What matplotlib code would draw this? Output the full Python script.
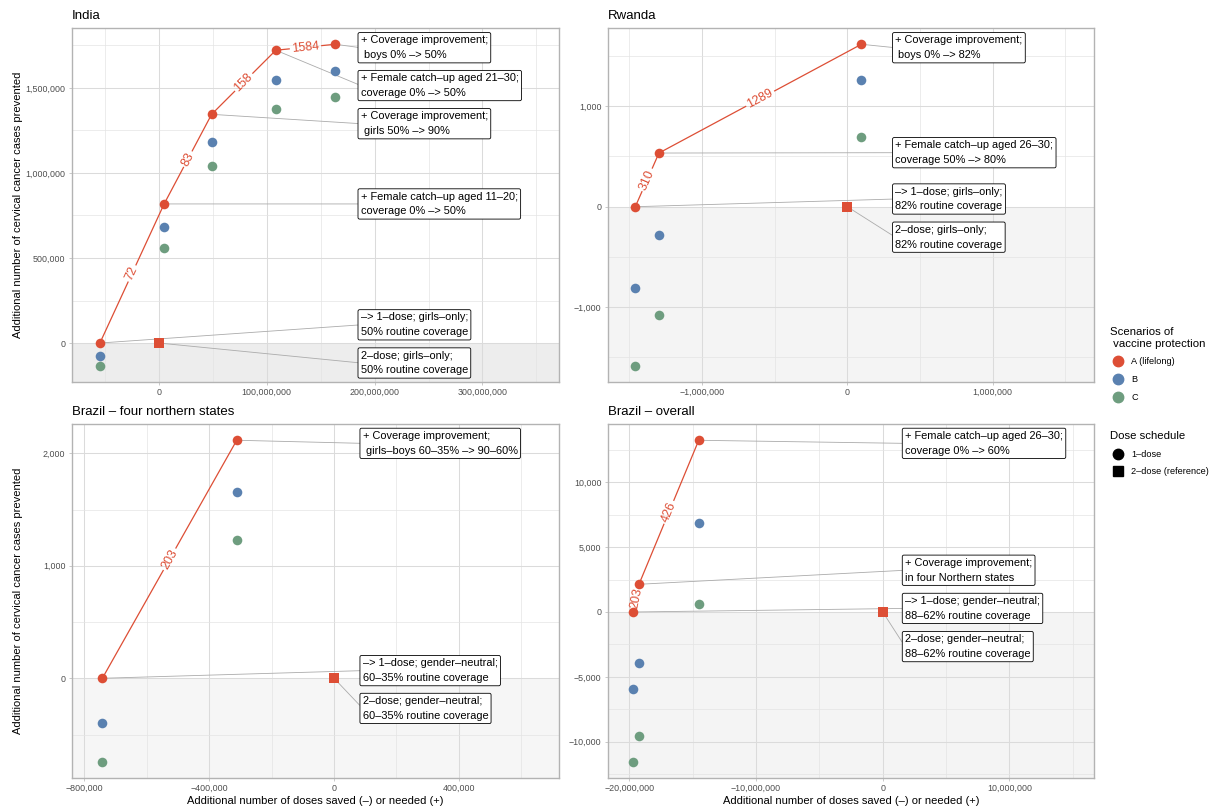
import matplotlib
matplotlib.use('Agg')
import matplotlib.pyplot as plt
import matplotlib.ticker as mticker
from matplotlib.lines import Line2D
import numpy as np

plt.rcParams['font.family'] = ['Liberation Sans', 'DejaVu Sans']

panelNames = ['India', 'Rwanda', 'Brazil – four northern states', 'Brazil – overall']

# India: doses saved(-)/needed(+) for each step; cases prevented per scenario
indiaDoses = [-54.5e6, 5.0e6, 49.0e6, 108.5e6, 163.5e6]
indiaCasesA = [0, 818000, 1345000, 1722000, 1757000]
indiaCasesB = [-75000, 680000, 1182000, 1545000, 1600000]
indiaCasesC = [-135000, 561000, 1041000, 1378000, 1445000]
indiaRatios = ['72', '83', '158', '1584']
indiaSteps = ['–> 1–dose; girls–only;\n50% routine coverage',
              '+ Female catch–up aged 11–20;\ncoverage 0% –> 50%',
              '+ Coverage improvement;\n girls 50% –> 90%',
              '+ Female catch–up aged 21–30;\ncoverage 0% –> 50%',
              '+ Coverage improvement;\n boys 0% –> 50%']
indiaRef = '2–dose; girls–only;\n50% routine coverage'

# Rwanda
rwandaDoses = [-1.460e6, -1.297e6, 0.097e6]
rwandaCasesA = [0, 534, 1616]
rwandaCasesB = [-809, -279, 1261]
rwandaCasesC = [-1585, -1078, 694]
rwandaRatios = ['310', '1289']
rwandaSteps = ['–> 1–dose; girls–only;\n82% routine coverage',
               '+ Female catch–up aged 26–30;\ncoverage 50% –> 80%',
               '+ Coverage improvement;\n boys 0% –> 82%']
rwandaRef = '2–dose; girls–only;\n82% routine coverage'

# Brazil - four northern states
brNorthDoses = [-742600, -311900]
brNorthCasesA = [0, 2116]
brNorthCasesB = [-395, 1659]
brNorthCasesC = [-741, 1232]
brNorthRatios = ['203']
brNorthSteps = ['–> 1–dose; gender–neutral;\n60–35% routine coverage',
                '+ Coverage improvement;\n girls–boys 60–35% –> 90–60%']
brNorthRef = '2–dose; gender–neutral;\n60–35% routine coverage'

# Brazil - overall
brazilDoses = [-19.70e6, -19.25e6, -14.53e6]
brazilCasesA = [0, 2136, 13238]
brazilCasesB = [-5960, -3909, 6839]
brazilCasesC = [-11542, -9584, 617]
brazilRatios = ['203', '426']
brazilSteps = ['–> 1–dose; gender–neutral;\n88–62% routine coverage',
               '+ Coverage improvement;\nin four Northern states',
               '+ Female catch–up aged 26–30;\ncoverage 0% –> 60%']
brazilRef = '2–dose; gender–neutral;\n88–62% routine coverage'

# 2-dose reference schedule (origin of every panel)
refDoses = [0, 0, 0, 0]
refCases = [0, 0, 0, 0]

scenarioNames = ['A (lifelong)', 'B', 'C']
doseNames = ['1–dose', '2–dose (reference)']

allDoses = [indiaDoses, rwandaDoses, brNorthDoses, brazilDoses]
allCases = [[indiaCasesA, indiaCasesB, indiaCasesC],
            [rwandaCasesA, rwandaCasesB, rwandaCasesC],
            [brNorthCasesA, brNorthCasesB, brNorthCasesC],
            [brazilCasesA, brazilCasesB, brazilCasesC]]
allRatios = [indiaRatios, rwandaRatios, brNorthRatios, brazilRatios]
allSteps = [indiaSteps, rwandaSteps, brNorthSteps, brazilSteps]
allRefs = [indiaRef, rwandaRef, brNorthRef, brazilRef]

# layout
colors = ['#DD4E35', '#5A81B0', '#6E9D7F']
xLims = [(-80.6e6, 371e6), (-1.650e6, 1.701e6), (-840700, 721150), (-21.72e6, 16.71e6)]
yLims = [(-227600, 1851000), (-1741, 1775), (-884, 2258), (-12776, 14472)]
xSteps = [(1e8, 5e7), (1e6, 5e5), (4e5, 2e5), (1e7, 5e6)]
ySteps = [(5e5, 2.5e5), (1000, 500), (1000, 500), (5000, 2500)]
shadeColors = ['#EDEDED', '#F4F4F4', '#F6F6F6', '#F4F4F4']
boxX = [0.593, 0.591, 0.597, 0.611]
# label box centres (axes fraction): steps first, reference last
boxY = [[0.161, 0.503, 0.730, 0.838, 0.945, 0.053],
        [0.517, 0.648, 0.945, 0.409],
        [0.303, 0.946, 0.196],
        [0.479, 0.587, 0.946, 0.371]]
axPos = [[0.0592, 0.5264, 0.4021, 0.4385],
         [0.5014, 0.5264, 0.4015, 0.4385],
         [0.0592, 0.0351, 0.4021, 0.4385],
         [0.5014, 0.0351, 0.4015, 0.4385]]

fig = plt.figure(figsize=(12.12, 8.06), dpi=100)
renderer = fig.canvas.get_renderer()

def fmt(v, pos):
  return f'{v:,.0f}'.replace('-', '\u2212')

for nPanel in range(0, len(panelNames)):
  ax = fig.add_axes(axPos[nPanel])
  ax.set_xlim(xLims[nPanel])
  ax.set_ylim(yLims[nPanel])
  ax.xaxis.set_major_locator(mticker.MultipleLocator(xSteps[nPanel][0]))
  ax.xaxis.set_minor_locator(mticker.MultipleLocator(xSteps[nPanel][1]))
  ax.yaxis.set_major_locator(mticker.MultipleLocator(ySteps[nPanel][0]))
  ax.yaxis.set_minor_locator(mticker.MultipleLocator(ySteps[nPanel][1]))
  ax.xaxis.set_major_formatter(mticker.FuncFormatter(fmt))
  ax.yaxis.set_major_formatter(mticker.FuncFormatter(fmt))
  ax.set_axisbelow(True)
  ax.grid(which='major', color='#DBDBDB', lw=0.75)
  ax.grid(which='minor', color='#E4E4E4', lw=0.5)
  ax.tick_params(which='major', length=2.5, width=0.5, color='#B3B3B3',
                 labelsize=6.4, labelcolor='#4D4D4D', pad=2)
  ax.tick_params(which='minor', length=0)
  for s in ax.spines.values():
    s.set_color('#B3B3B3')
    s.set_linewidth(1.0)
  ax.axhspan(yLims[nPanel][0], 0, color=shadeColors[nPanel], lw=0, zorder=0.2)
  ax.set_title(panelNames[nPanel], loc='left', fontsize=9.5, pad=7)

  xs = allDoses[nPanel]
  ysA = allCases[nPanel][0]

  # path of scenario A with ratio labels cut into the line
  pts = ax.transData.transform(np.column_stack([xs, ysA]))
  inv = ax.transData.inverted()
  for i in range(0, len(allRatios[nPanel])):
    p0 = pts[i]
    p1 = pts[i + 1]
    d = p1 - p0
    length = np.hypot(d[0], d[1])
    u = d / length
    mid = (p0 + p1) / 2
    angle = np.degrees(np.arctan2(d[1], d[0]))
    mx, my = inv.transform(mid)
    t = ax.text(mx, my, allRatios[nPanel][i], color=colors[0], fontsize=9,
                ha='center', va='center', rotation_mode='anchor', zorder=3)
    w = t.get_window_extent(renderer).width
    t.set_rotation(angle)
    gap = w / 2 + 2.5
    if gap < length / 2:
      a = inv.transform(mid - u * gap)
      b = inv.transform(mid + u * gap)
      ax.plot([xs[i], a[0]], [ysA[i], a[1]], color=colors[0], lw=0.9, zorder=2.5)
      ax.plot([b[0], xs[i + 1]], [b[1], ysA[i + 1]], color=colors[0], lw=0.9, zorder=2.5)

  for nScen in range(2, -1, -1):
    ax.scatter(xs, allCases[nPanel][nScen], s=48, c=colors[nScen], lw=0, zorder=3)
  ax.scatter(refDoses[nPanel], refCases[nPanel], s=62, marker='s', c=colors[0], lw=0, zorder=3)

  # label boxes
  targets = [(xs[i], ysA[i]) for i in range(len(xs))] + [(refDoses[nPanel], refCases[nPanel])]
  texts = allSteps[nPanel] + [allRefs[nPanel]]
  for i in range(0, len(texts)):
    ax.annotate(texts[i], xy=targets[i], xycoords='data',
                xytext=(boxX[nPanel], boxY[nPanel][i]), textcoords='axes fraction',
                ha='left', va='center', fontsize=7.9, linespacing=1.6, zorder=2.8,
                bbox=dict(boxstyle='round,pad=0.25,rounding_size=0.15', fc='white', ec='black', lw=0.6),
                arrowprops=dict(arrowstyle='-', color='#ABABAB', lw=0.6, shrinkA=0, shrinkB=0,
                                relpos=(0, 0.5)))

  if nPanel >= 2:
    ax.set_xlabel('Additional number of doses saved (–) or needed (+)', fontsize=8, labelpad=2)

fig.text(18 / 1212, 0.7457, 'Additional number of cervical cancer cases prevented',
         rotation=90, ha='center', va='center', fontsize=8)
fig.text(18 / 1212, 0.2543, 'Additional number of cervical cancer cases prevented',
         rotation=90, ha='center', va='center', fontsize=8)

scenHandles = [Line2D([], [], marker='o', ls='', color=c, markersize=7.5) for c in colors]
leg1 = fig.legend(scenHandles, scenarioNames, title='Scenarios of\n vaccine protection',
                  loc='upper left', bbox_to_anchor=(1110 / 1212, 1 - 327 / 806), frameon=False,
                  fontsize=6.6, title_fontsize=8.2, alignment='left', handletextpad=0.5,
                  labelspacing=0.95, handlelength=1.8, borderaxespad=0, borderpad=0)
doseHandles = [Line2D([], [], marker='o', ls='', color='black', markersize=7.5),
               Line2D([], [], marker='s', ls='', color='black', markersize=7.5)]
leg2 = fig.legend(doseHandles, doseNames, title='Dose schedule',
                  loc='upper left', bbox_to_anchor=(1110 / 1212, 1 - 431 / 806), frameon=False,
                  fontsize=6.6, title_fontsize=8.2, alignment='left', handletextpad=0.5,
                  labelspacing=0.95, handlelength=1.8, borderaxespad=0, borderpad=0)

plt.savefig('out.png', dpi=100)
